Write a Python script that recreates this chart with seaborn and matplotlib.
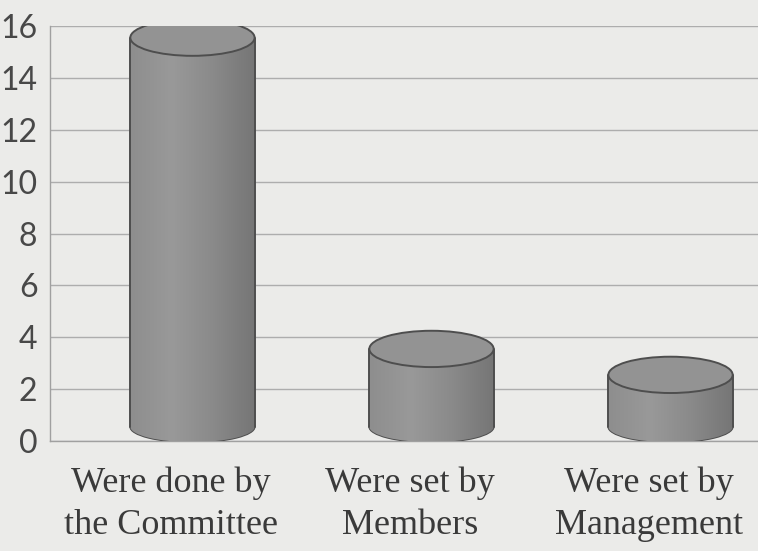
import numpy as np
import pandas as pd
import seaborn as sns
import matplotlib.pyplot as plt
from matplotlib.patches import Ellipse
from matplotlib.colors import LinearSegmentedColormap

categories = ["Were done by\nthe Committee", "Were set by\nMembers", "Were set by\nManagement"]
values = [15, 3, 2]
y_ticks = [0, 2, 4, 6, 8, 10, 12, 14, 16]

df = pd.DataFrame({"source": categories, "count": values})

sns.set_style("white")
plt.rcParams["font.family"] = ["Lato", "DejaVu Sans"]

bg = "#ebebe9"
fig = plt.figure(figsize=(7.58, 5.51), dpi=100, facecolor=bg)
ax = fig.add_axes([50 / 758, 110 / 551, 708 / 758, 415 / 551])
ax.set_facecolor(bg)

sns.barplot(data=df, x="source", y="count", color="#8c8c8c", width=0.52,
            saturation=1, ax=ax, zorder=3)

# fake 3d cylinder look on top of the seaborn bars
base = 0.55      # floor offset of the 3d bars
shift = 0.09     # bars sit a bit right of the labels (depth)
ell_h = 1.4
edge = "#4e4e4e"
body_cm = LinearSegmentedColormap.from_list("body", ["#8e8e8e", "#999999", "#8a8a8a", "#767676"])
grad = np.linspace(0, 1, 64).reshape(1, -1)

for p in list(ax.patches):
    x0 = p.get_x() + shift
    w = p.get_width()
    h = p.get_height()
    top = base + h
    cx = x0 + w / 2
    p.set_x(x0)
    p.set_y(base)
    p.set_linewidth(0)

    bottom = Ellipse((cx, base), w, ell_h * 0.85, fc="#888888", ec=edge,
                     lw=1.4, zorder=2.9)
    ax.add_patch(bottom)
    im = ax.imshow(grad, extent=[x0, x0 + w, base - ell_h, top], aspect="auto",
                   cmap=body_cm, zorder=2.95)
    im.set_clip_path(bottom)
    im = ax.imshow(grad, extent=[x0, x0 + w, base, top], aspect="auto",
                   cmap=body_cm, zorder=3.1)
    im.set_clip_path(p)

    ax.plot([x0, x0], [base, top], color=edge, lw=1.4, zorder=3.2)
    ax.plot([x0 + w, x0 + w], [base, top], color=edge, lw=1.4, zorder=3.2)
    ax.add_patch(Ellipse((cx, top), w, ell_h, fc="#939393", ec=edge,
                         lw=1.4, zorder=3.3))

ax.set_xlim(-0.506, 2.456)
ax.set_ylim(0, 16)
ax.set_yticks(y_ticks)
ax.set_xlabel("")
ax.set_ylabel("")

ax.yaxis.grid(True, color="#adadad", lw=1)
ax.set_axisbelow(True)
sns.despine(ax=ax, top=True, right=True)
for s in ["left", "bottom"]:
    ax.spines[s].set_color("#a0a0a0")
    ax.spines[s].set_linewidth(1)

ax.tick_params(axis="y", length=6, color="#a0a0a0", labelsize=23,
               labelcolor="#484848", pad=3)
ax.tick_params(axis="x", length=0, labelsize=26, labelcolor="#3a3a3a", pad=18)
for lab in ax.get_xticklabels():
    lab.set_fontfamily("Liberation Serif")
    lab.set_linespacing(1.4)

fig.savefig("out.png", dpi=100, facecolor=bg)
